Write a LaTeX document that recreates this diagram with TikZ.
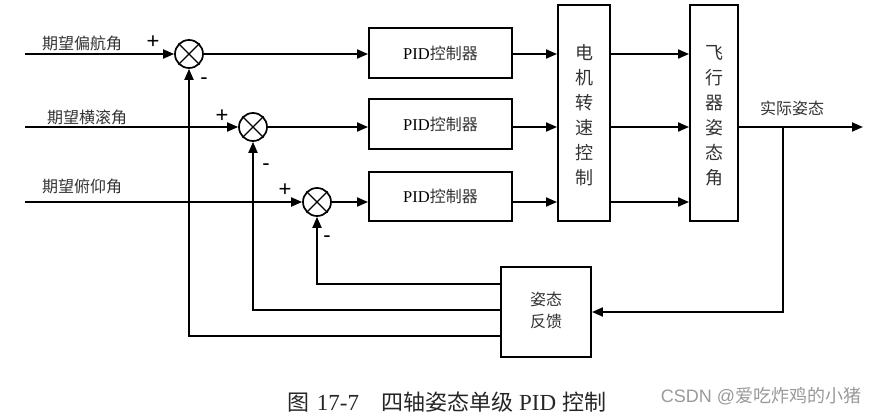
\documentclass[tikz,border=0pt]{standalone}
\usepackage{fontspec}
\setmainfont{Liberation Serif}
\newfontfamily\cjk{Noto Sans CJK SC}
\newfontfamily\wmfont{Liberation Sans}
\usetikzlibrary{arrows.meta,calc}
\definecolor{txt}{HTML}{333333}
\definecolor{wm}{HTML}{999999}
\begin{document}
\begin{tikzpicture}[x=1pt,y=-1pt,line width=1.9pt,
  arr/.style={-{Triangle[length=11pt,width=9pt]}},
  blk/.style={draw,line width=1.9pt,inner sep=0pt,align=center},
  sumnode/.style={circle,draw,line width=1.7pt,minimum size=28pt,inner sep=0pt},
  lbl/.style={text=txt,font=\cjk\fontsize{16}{18}\selectfont,inner sep=0pt},
  sgn/.style={text=black,font=\wmfont\fontsize{22}{22}\selectfont,inner sep=0pt},
  vtext/.style={font=\cjk\fontsize{18}{25}\selectfont,text=txt}]
\useasboundingbox (0,0) rectangle (886,415);

% summing junctions
\node[sumnode] (c1) at (189,54) {};
\node[sumnode] (c2) at (253,127) {};
\node[sumnode] (c3) at (317,202) {};
\foreach \c in {c1,c2,c3}{
  \draw[line width=1.3pt] (\c.north west) -- (\c.south east) (\c.north east) -- (\c.south west);
}

% PID boxes
\node[blk,minimum width=143pt,minimum height=50pt] (p1) at (440.5,53) {{\fontsize{16.5}{18}\selectfont PID}{\cjk\color{txt}\fontsize{16}{18}\selectfont 控制器}};
\node[blk,minimum width=143pt,minimum height=50pt] (p2) at (440.5,124) {{\fontsize{16.5}{18}\selectfont PID}{\cjk\color{txt}\fontsize{16}{18}\selectfont 控制器}};
\node[blk,minimum width=143pt,minimum height=49pt] (p3) at (440.5,196.5) {{\fontsize{16.5}{18}\selectfont PID}{\cjk\color{txt}\fontsize{16}{18}\selectfont 控制器}};

% motor and aircraft boxes
\node[blk,minimum width=52pt,minimum height=216pt] (m) at (584,113) {};
\node[vtext] at (m.center) [yshift=-2pt,align=center] {电\\机\\转\\速\\控\\制};
\node[blk,minimum width=48pt,minimum height=216pt] (a) at (714,113) {};
\node[vtext] at (a.center) [yshift=-3pt,align=center] {飞\\行\\器\\姿\\态\\角};

% feedback box
\node[blk,minimum width=90pt,minimum height=90pt] (fb) at (546,312) {};
\node[vtext,font=\cjk\fontsize{16}{22}\selectfont,align=center] at (fb.center) [yshift=2pt] {姿态\\反馈};

% inputs
\coordinate (i1) at (25,54);
\coordinate (i2) at (25,127);
\coordinate (i3) at (25,202);
\draw[arr] (i1) -- (c1.west);
\draw[arr] (i2) -- (c2.west);
\draw[arr] (i3) -- (c3.west);
\node[lbl] at (82,43) {期望偏航角};
\node[lbl] at (87,117) {期望横滚角};
\node[lbl] at (82,186) {期望俯仰角};

% signs
\node[sgn] at (153,42) {+};
\node[sgn] at (222,116) {+};
\node[sgn] at (285,190) {+};
\node[sgn] at (204,81) {-};
\node[sgn] at (266,167) {-};
\node[sgn] at (327,239) {-};

% forward path
\draw[arr] (c1.east) -- (c1 -| p1.west);
\draw[arr] (c2.east) -- (c2 -| p2.west);
\draw[arr] (c3.east) -- (c3 -| p3.west);
\draw[arr] (p1.east |- c1) -- (c1 -| m.west);
\draw[arr] (p2.east |- c2) -- (c2 -| m.west);
\draw[arr] (p3.east |- c3) -- (c3 -| m.west);
\draw[arr] (m.east |- c1) -- (c1 -| a.west);
\draw[arr] (m.east |- c2) -- (c2 -| a.west);
\draw[arr] (m.east |- c3) -- (c3 -| a.west);

% output
\coordinate (out) at (863,127);
\coordinate (br) at (783,127);
\draw[arr] (a.east |- c2) -- (out);
\node[lbl] at (792,108) {实际姿态};

% feedback
\draw[arr] (br) |- (fb.east);
\draw[arr] ($(fb.west)+(0,-28)$) -| (c3.south);
\draw[arr] ($(fb.west)+(0,-2)$) -| (c2.south);
\draw[arr] ($(fb.west)+(0,24)$) -| (c1.south);

% caption
\node[inner sep=0pt,text=black!85] at (447,402) {{\cjk\fontsize{22}{24}\selectfont 图}\hspace{7pt}{\fontsize{23}{24}\selectfont 17-7}\hspace{22pt}{\cjk\fontsize{22}{24}\selectfont 四轴姿态单级}\hspace{6pt}{\fontsize{23}{24}\selectfont PID}\hspace{6pt}{\cjk\fontsize{22}{24}\selectfont 控制}};
\node[inner sep=0pt,text=wm,anchor=west] at (660,396) {{\wmfont\fontsize{18}{20}\selectfont CSDN @}{\cjk\fontsize{18}{20}\selectfont 爱吃炸鸡的小猪}};
\end{tikzpicture}
\end{document}
